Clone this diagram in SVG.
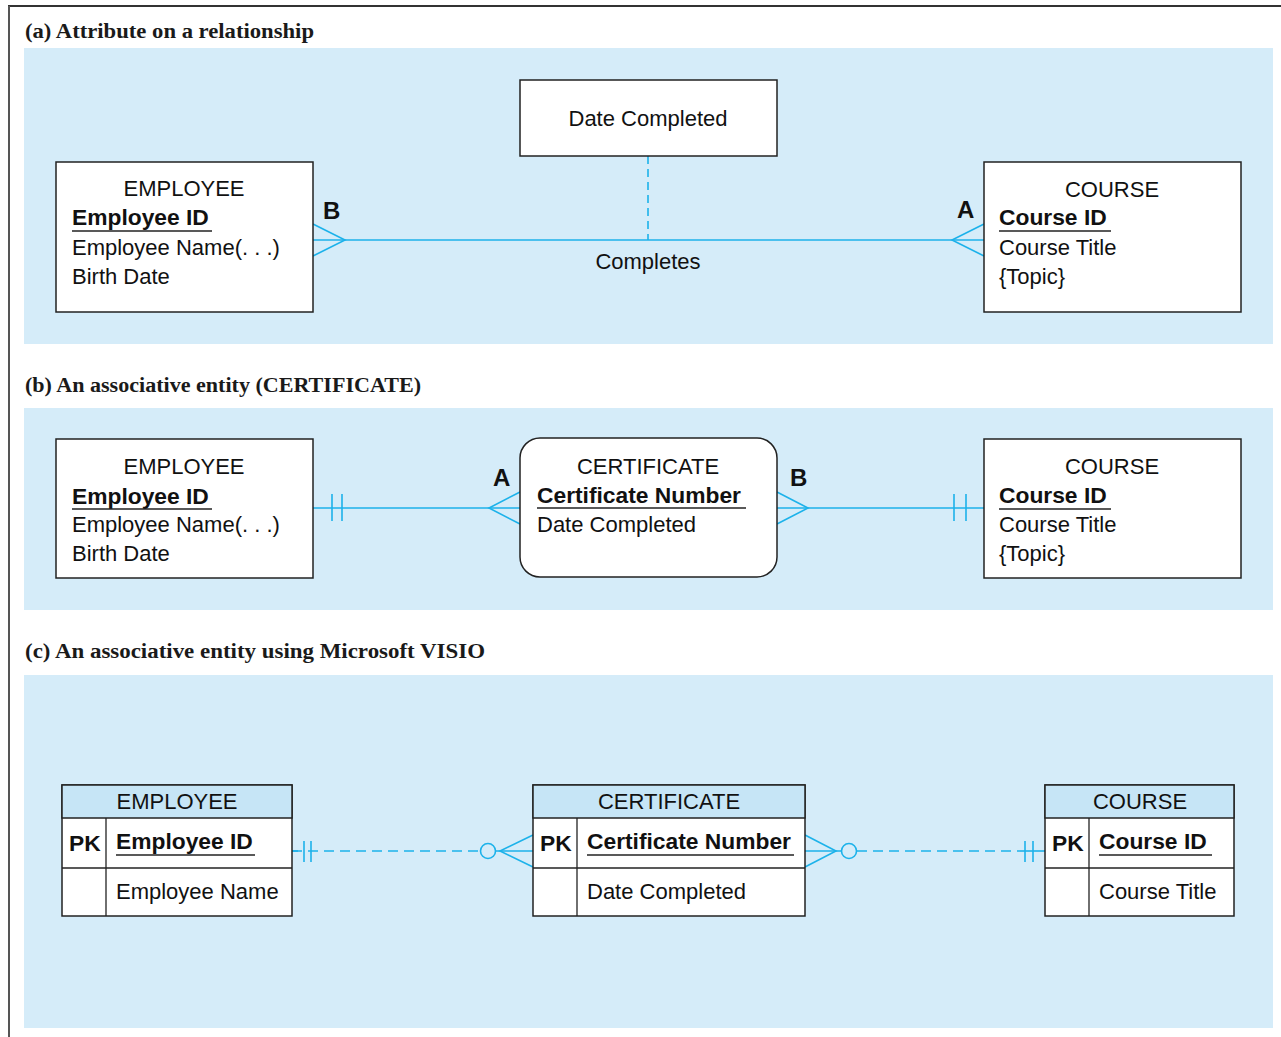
<svg xmlns="http://www.w3.org/2000/svg" width="1281" height="1037" viewBox="0 0 1281 1037">
<style>
.panel{fill:#d5ecf9}
.title{font-family:"Liberation Serif",serif;font-weight:bold;font-size:20px;fill:#1a1a1a}
.box{fill:#fff;stroke:#222;stroke-width:1.5}
.hdr{fill:#c6e5f6;stroke:#222;stroke-width:1.5}
.t{font-family:"Liberation Sans",Arial,sans-serif;font-size:22px;fill:#111}
.b{font-weight:bold;font-size:22.8px}
.c{text-anchor:middle}
.ul{stroke:#222;stroke-width:1.3}
.ln{stroke:#1cb2ea;stroke-width:1.6;fill:none}
.dash{stroke-dasharray:10 6}
.lbl{font-family:"Liberation Sans",Arial,sans-serif;font-size:24px;font-weight:bold;fill:#111}
</style>
<rect width="1281" height="1037" fill="#fff"/>
<line x1="8" y1="6" x2="1281" y2="6" stroke="#333" stroke-width="2"/>
<line x1="9" y1="6" x2="9" y2="1037" stroke="#555" stroke-width="2"/>

<!-- Panels -->
<text class="title" x="25" y="38" textLength="289" lengthAdjust="spacingAndGlyphs">(a) Attribute on a relationship</text>
<rect class="panel" x="24" y="48" width="1249" height="296"/>
<text class="title" x="25" y="392" textLength="396" lengthAdjust="spacingAndGlyphs">(b) An associative entity (CERTIFICATE)</text>
<rect class="panel" x="24" y="408" width="1249" height="202"/>
<text class="title" x="25" y="658" textLength="460" lengthAdjust="spacingAndGlyphs">(c) An associative entity using Microsoft VISIO</text>
<rect class="panel" x="24" y="675" width="1249" height="353"/>

<g id="connectors">
  <line class="ln" x1="313" y1="240" x2="984" y2="240"/>
  <polyline class="ln" points="313,224 345,240 313,256"/>
  <polyline class="ln" points="984,224 952,240 984,256"/>
  <line class="ln" x1="648" y1="156" x2="648" y2="240" stroke-dasharray="8 5"/>
  <!-- b -->
  <line class="ln" x1="313" y1="508" x2="520" y2="508"/>
  <line class="ln" x1="332" y1="494" x2="332" y2="521"/>
  <line class="ln" x1="342" y1="494" x2="342" y2="521"/>
  <polyline class="ln" points="520,492 489,508 520,524"/>
  <line class="ln" x1="777" y1="508" x2="984" y2="508"/>
  <polyline class="ln" points="777,492 808,508 777,524"/>
  <line class="ln" x1="954" y1="494" x2="954" y2="521"/>
  <line class="ln" x1="966" y1="494" x2="966" y2="521"/>
  <!-- c -->
  <line class="ln dash" x1="292" y1="851" x2="481" y2="851"/>
  <line class="ln" x1="292" y1="851" x2="298" y2="851"/>
  <line class="ln" x1="304" y1="841" x2="304" y2="862"/>
  <line class="ln" x1="311" y1="841" x2="311" y2="862"/>
  <circle class="ln" cx="488" cy="851" r="7.5"/>
  <line class="ln" x1="496" y1="851" x2="533" y2="851"/>
  <polyline class="ln" points="533,835 500,851 533,867"/>
  <polyline class="ln" points="805,835 836,851 805,867"/>
  <line class="ln" x1="805" y1="851" x2="841" y2="851"/>
  <circle class="ln" cx="849" cy="851" r="7.5"/>
  <line class="ln dash" x1="857" y1="851" x2="1020" y2="851"/>
  <line class="ln" x1="1020" y1="851" x2="1045" y2="851"/>
  <line class="ln" x1="1025" y1="841" x2="1025" y2="862"/>
  <line class="ln" x1="1033" y1="841" x2="1033" y2="862"/>
  <text class="lbl" x="323" y="219">B</text>
  <text class="lbl" x="957" y="218">A</text>
  <text class="t c" x="648" y="269">Completes</text>
  <text class="lbl" x="493" y="486">A</text>
  <text class="lbl" x="790" y="486">B</text>
</g>

<g id="emp-a">
  <rect class="box" x="56" y="162" width="257" height="150"/>
  <text class="t c" x="184" y="196">EMPLOYEE</text>
  <text class="t b" x="72" y="225">Employee ID</text>
  <line class="ul" x1="72" y1="231" x2="212" y2="231"/>
  <text class="t" x="72" y="255">Employee Name(. . .)</text>
  <text class="t" x="72" y="284">Birth Date</text>
</g>
<g id="date-a">
  <rect class="box" x="520" y="80" width="257" height="76"/>
  <text class="t c" x="648" y="126">Date Completed</text>
</g>
<g id="course-a">
  <rect class="box" x="984" y="162" width="257" height="150"/>
  <text class="t c" x="1112" y="197">COURSE</text>
  <text class="t b" x="999" y="225">Course ID</text>
  <line class="ul" x1="999" y1="231" x2="1111" y2="231"/>
  <text class="t" x="999" y="255">Course Title</text>
  <text class="t" x="999" y="284">{Topic}</text>
</g>

<g id="emp-b">
  <rect class="box" x="56" y="439" width="257" height="139"/>
  <text class="t c" x="184" y="474">EMPLOYEE</text>
  <text class="t b" x="72" y="504">Employee ID</text>
  <line class="ul" x1="72" y1="509" x2="212" y2="509"/>
  <text class="t" x="72" y="532">Employee Name(. . .)</text>
  <text class="t" x="72" y="561">Birth Date</text>
</g>
<g id="cert-b">
  <rect class="box" x="520" y="438" width="257" height="139" rx="20"/>
  <text class="t c" x="648" y="474">CERTIFICATE</text>
  <text class="t b" x="537" y="503">Certificate Number</text>
  <line class="ul" x1="537" y1="508" x2="746" y2="508"/>
  <text class="t" x="537" y="532">Date Completed</text>
</g>
<g id="course-b">
  <rect class="box" x="984" y="439" width="257" height="139"/>
  <text class="t c" x="1112" y="474">COURSE</text>
  <text class="t b" x="999" y="503">Course ID</text>
  <line class="ul" x1="999" y1="509" x2="1111" y2="509"/>
  <text class="t" x="999" y="532">Course Title</text>
  <text class="t" x="999" y="561">{Topic}</text>
</g>

<g id="emp-c">
  <rect class="box" x="62" y="785" width="230" height="131"/>
  <rect class="hdr" x="62" y="785" width="230" height="33"/>
  <line class="ul" x1="62" y1="868" x2="292" y2="868"/>
  <line class="ul" x1="106" y1="818" x2="106" y2="916"/>
  <text class="t c" x="177" y="809">EMPLOYEE</text>
  <text class="t b" x="69" y="851">PK</text>
  <text class="t b" x="116" y="849">Employee ID</text>
  <line class="ul" x1="116" y1="855" x2="255" y2="855"/>
  <text class="t" x="116" y="899">Employee Name</text>
</g>
<g id="cert-c">
  <rect class="box" x="533" y="785" width="272" height="131"/>
  <rect class="hdr" x="533" y="785" width="272" height="33"/>
  <line class="ul" x1="533" y1="868" x2="805" y2="868"/>
  <line class="ul" x1="577" y1="818" x2="577" y2="916"/>
  <text class="t c" x="669" y="809">CERTIFICATE</text>
  <text class="t b" x="540" y="851">PK</text>
  <text class="t b" x="587" y="849">Certificate Number</text>
  <line class="ul" x1="587" y1="855" x2="794" y2="855"/>
  <text class="t" x="587" y="899">Date Completed</text>
</g>
<g id="course-c">
  <rect class="box" x="1045" y="785" width="189" height="131"/>
  <rect class="hdr" x="1045" y="785" width="189" height="33"/>
  <line class="ul" x1="1045" y1="868" x2="1234" y2="868"/>
  <line class="ul" x1="1089" y1="818" x2="1089" y2="916"/>
  <text class="t c" x="1140" y="809">COURSE</text>
  <text class="t b" x="1052" y="851">PK</text>
  <text class="t b" x="1099" y="849">Course ID</text>
  <line class="ul" x1="1099" y1="855" x2="1212" y2="855"/>
  <text class="t" x="1099" y="899">Course Title</text>
</g>
</svg>
